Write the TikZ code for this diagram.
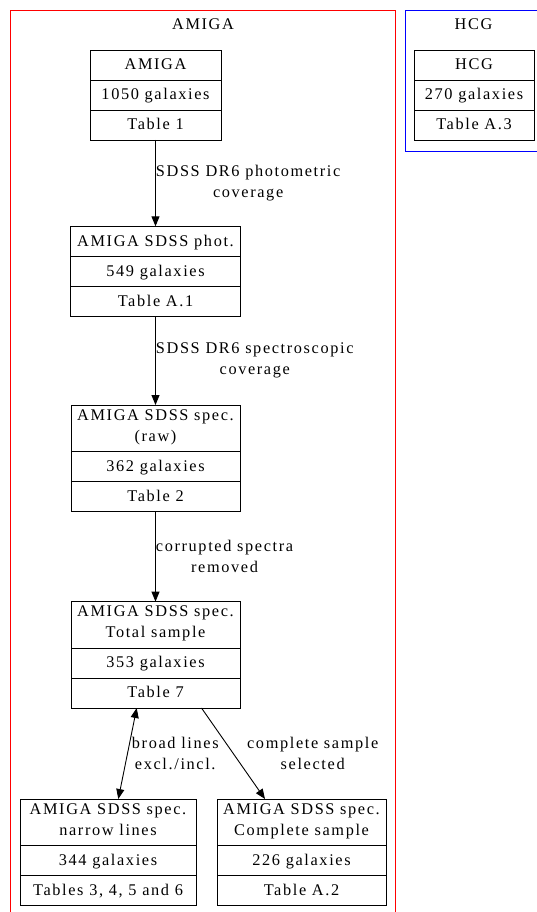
\documentclass[tikz,border=0pt]{standalone}
\usepackage{fontspec}
\setmainfont{Liberation Serif}
\newfontfamily\gvfont[LetterSpace=10]{Liberation Serif}
\usetikzlibrary{positioning,arrows.meta}
\newcommand{\rowstrut}{\rule[-5.6pt]{0pt}{21pt}}

\begin{document}
\begin{tikzpicture}[x=1pt, y=-1pt, >={Triangle[length=10pt,width=8pt]},
  txt/.style={font=\gvfont\fontsize{16.3}{21}\selectfont},
  cell/.style={txt, draw, line width=0.9pt, outer sep=0pt, minimum width=#1,
    inner xsep=0pt, inner ysep=4.5pt, align=center,
    execute at begin node=\rowstrut, execute at end node=\rowstrut},
  edge/.style={line width=0.9pt},
  elbl/.style={txt, midway, right, inner sep=0pt, align=center}]
\useasboundingbox (0,0) rectangle (536,912);
% clusters
\draw[red, line width=0.9pt] (10.7,914) -- (10.7,10) -- (395,10) -- (395,914);
\node[txt] (tamiga) at (203,24) {AMIGA};
\draw[blue, line width=0.9pt] (538,10) -- (405,10) -- (405,151) -- (538,151);
\node[txt] (thcg) at (473.5,24) {HCG};
% AMIGA
\node[cell=131pt] (a1a) at (155.5,65) {AMIGA};
\node[cell=131pt, below=0pt of a1a] (a1b) {1050 galaxies};
\node[cell=131pt, below=0pt of a1b] (a1c) {Table 1};
% AMIGA SDSS phot.
\node[cell=170pt] (a2a) at (155.5,241.3) {AMIGA SDSS phot.};
\node[cell=170pt, below=0pt of a2a] (a2b) {549 galaxies};
\node[cell=170pt, below=0pt of a2b] (a2c) {Table A.1};
% AMIGA SDSS spec. (raw)
\node[cell=169pt] (a3a) at (155.5,428.2) {AMIGA SDSS spec.\\(raw)};
\node[cell=169pt, below=0pt of a3a] (a3b) {362 galaxies};
\node[cell=169pt, below=0pt of a3b] (a3c) {Table 2};
% total sample
\node[cell=169pt] (a4a) at (155.5,624.8) {AMIGA SDSS spec.\\Total sample};
\node[cell=169pt, below=0pt of a4a] (a4b) {353 galaxies};
\node[cell=169pt, below=0pt of a4b] (a4c) {Table 7};
% narrow lines
\node[cell=176pt] (a5a) at (108,822.2) {AMIGA SDSS spec.\\narrow lines};
\node[cell=176pt, below=0pt of a5a] (a5b) {344 galaxies};
\node[cell=176pt, below=0pt of a5b] (a5c) {Tables 3, 4, 5 and 6};
% complete sample
\node[cell=169pt] (a6a) at (301.5,822.2) {AMIGA SDSS spec.\\Complete sample};
\node[cell=169pt, below=0pt of a6a] (a6b) {226 galaxies};
\node[cell=169pt, below=0pt of a6b] (a6c) {Table A.2};
% HCG
\node[cell=120pt] (h1a) at (474,65) {HCG};
\node[cell=120pt, below=0pt of h1a] (h1b) {270 galaxies};
\node[cell=120pt, below=0pt of h1b] (h1c) {Table A.3};
% edges
\draw[edge, ->] (a1c) -- (a2a) node[elbl] {SDSS DR6 photometric\\coverage};
\draw[edge, ->] (a2c) -- (a3a) node[elbl] {SDSS DR6 spectroscopic\\coverage};
\draw[edge, ->] (a3c) -- (a4a) node[elbl] {corrupted spectra\\removed};
\draw[edge, <->] ([xshift=10.3pt]a5a.north) -- ([xshift=-18.8pt]a4c.south)
  node[elbl, xshift=4pt] {broad lines\\excl./incl.};
\draw[edge, ->] ([xshift=46pt]a4c.south) -- ([xshift=-36.5pt]a6a.north)
  node[elbl, xshift=13.4pt] {complete sample\\selected};
\end{tikzpicture}
\end{document}
